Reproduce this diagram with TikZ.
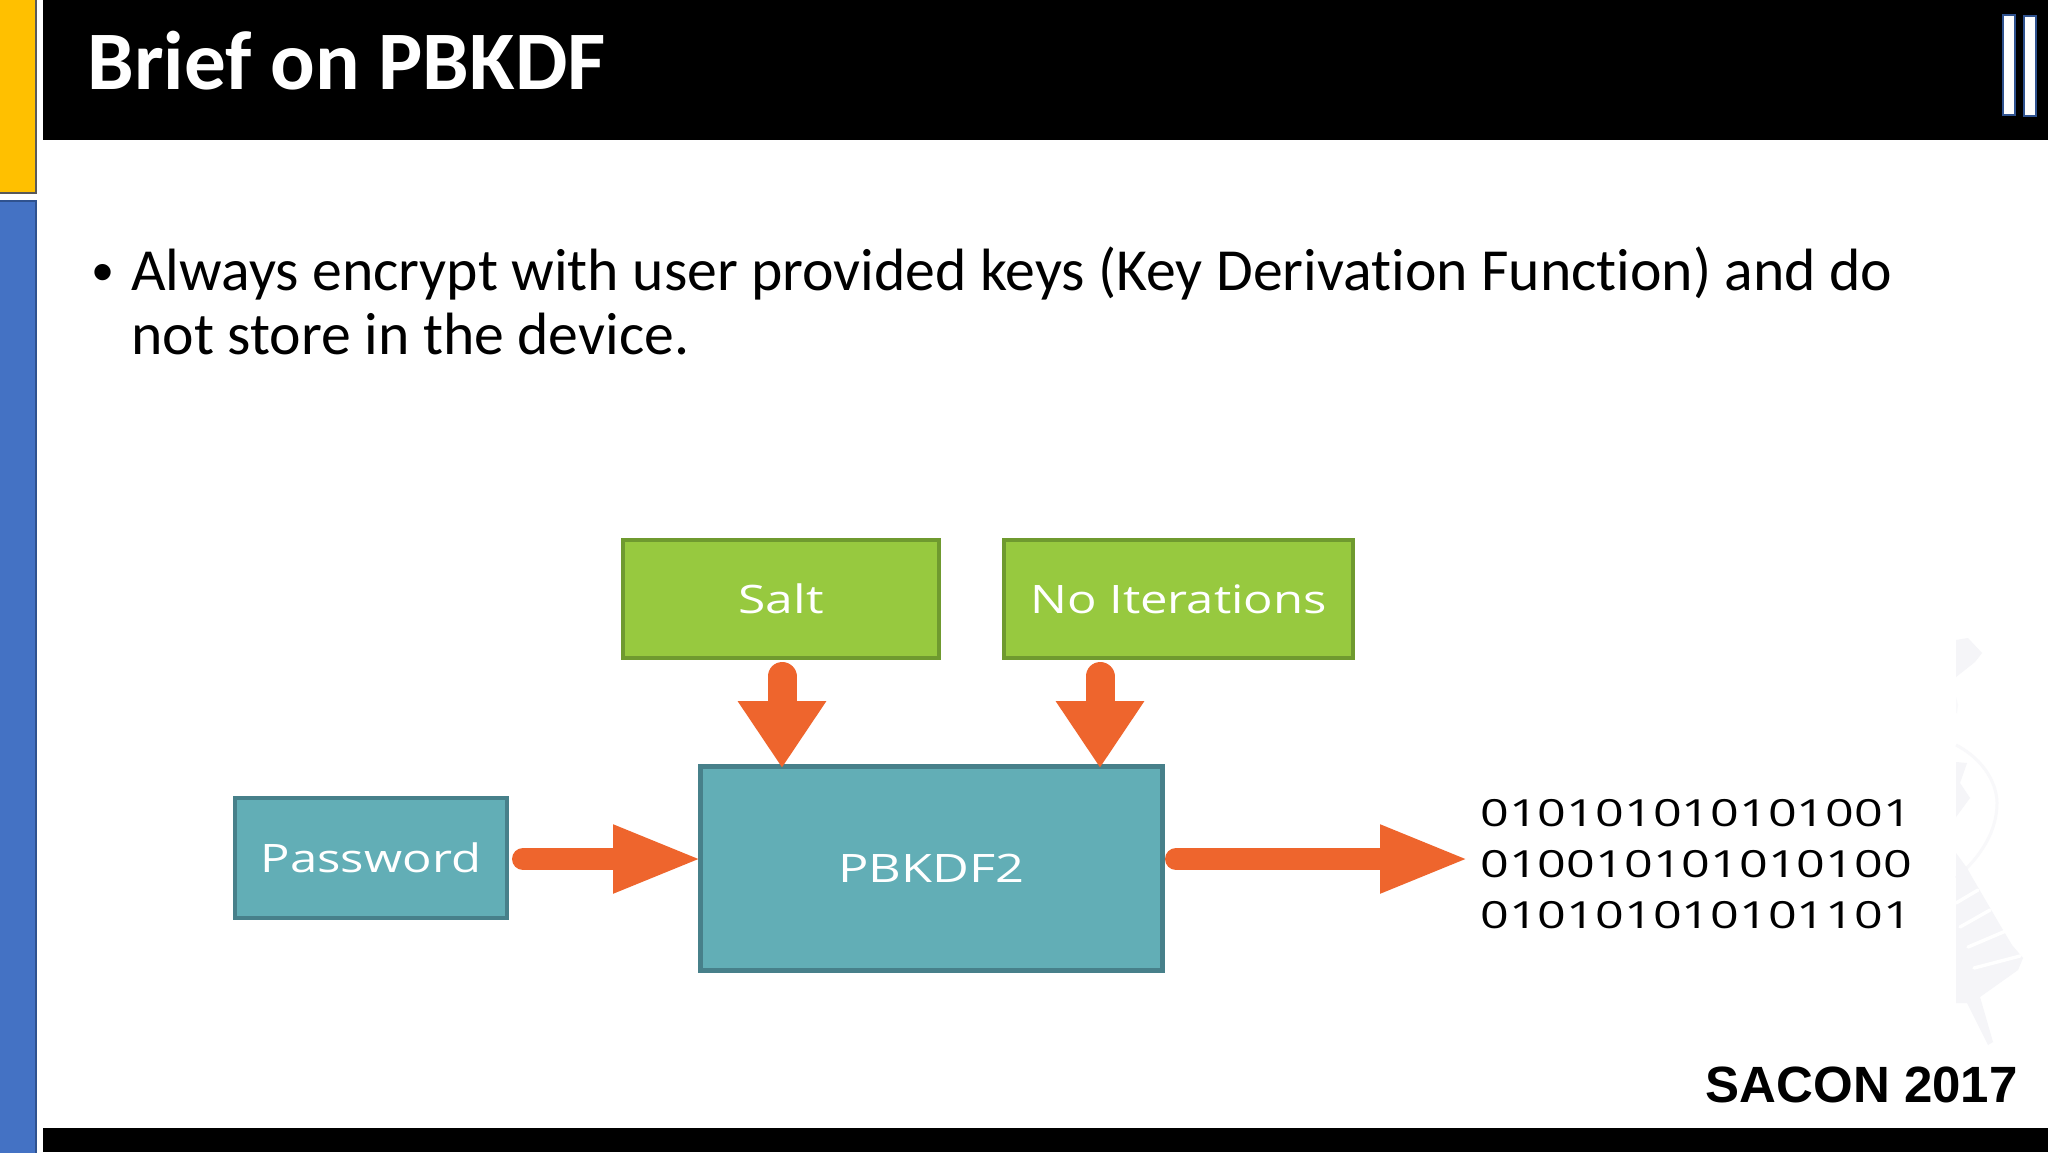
\documentclass[tikz,border=0pt]{standalone}
\usepackage{fontspec}
\usetikzlibrary{arrows.meta}
\setmainfont{Carlito}[Ligatures=NoCommon]
\newfontfamily\dgm{Open Sans}
\newfontfamily\foot{Liberation Sans}
\definecolor{gfill}{HTML}{97C93F}
\definecolor{gline}{HTML}{6F9A2F}
\definecolor{tfill}{HTML}{62AEB6}
\definecolor{tline}{HTML}{47808A}
\definecolor{orng}{HTML}{EE652D}
\definecolor{yel}{HTML}{FFC000}
\definecolor{blu}{HTML}{4472C4}
\definecolor{bluline}{HTML}{2F528F}
\definecolor{wm}{HTML}{F5F5F8}
\tikzset{
  x=0.5pt,y=-0.5pt,
  boxg/.style={draw=gline,fill=gfill,line width=2.4pt,outer sep=0pt,inner sep=0pt,text=white,font=\dgm\fontsize{19.6}{22}\selectfont},
  boxt/.style={draw=tline,fill=tfill,line width=2.4pt,outer sep=0pt,inner sep=0pt,text=white,font=\dgm\fontsize{19.6}{22}\selectfont},
  harrow/.style={orng,line width=11pt,line cap=round,shorten <=5.5pt,-{Triangle[length=45pt,width=31pt]}},
  varrow/.style={orng,line width=14.5pt,line cap=round,shorten <=7.25pt,-{Triangle[length=33.5pt,width=42pt]}},
  panel/.style={line width=1pt,draw=#1},
  whitebar/.style={fill=white,draw=bluline,line width=1pt},
  wmgap/.style={white,line width=1.7pt,line cap=round},
}
\begin{document}
\begin{tikzpicture}
\useasboundingbox (0,0) rectangle (2048,1152);
\fill[white] (0,0) rectangle (2048,1152);
% watermark
\fill[wm] (1956,640) -- (1968,638) -- (1982,653) -- (1975,662) -- (1956,677) -- cycle;
\fill[wm!60!white] (1956,697) -- (1958,705) -- (1957,713) -- (1956,713) -- cycle;
\draw[wm!70!white,line width=1.5pt] (1956,745) .. controls (1985,760) and (1997,785) .. (1997,803) .. controls (1997,830) and (1982,856) .. (1956,878);
\fill[wm] (1956,762) -- (1967,763) -- (1960,783) -- (1970,798) -- (1956,817) -- cycle;
\fill[wm] (1956,853) -- (1967,868) -- (1972,877) -- (2000,925) -- (2012,945) -- (2023,958) -- (2018,970) -- (1980,997) -- (1993,1042) -- (1988,1045) -- (1967,1003) -- (1956,1003) -- cycle;
\draw[wmgap] (1956,903) -- (1978,890);
\draw[wmgap] (1960,927) -- (1990,910);
\draw[wmgap] (1968,947) -- (2008,930);
\draw[wmgap] (1974,968) -- (2020,956);
% frame
\fill[black] (43,0) rectangle (2048,140);
\fill[black] (43,1128) rectangle (2048,1152);
\draw[panel=gray!70!black,fill=yel] (-2,-2) rectangle (35.5,193);
\draw[panel=bluline,fill=blu] (-2,200.5) rectangle (35.5,1154);
\draw[whitebar] (2002.5,14.5) rectangle (2015,115);
\draw[whitebar] (2023.5,15.5) rectangle (2036,116);
% text
\node[anchor=base west,inner sep=0pt,text=white,font=\bfseries\fontsize{41.6}{48}\selectfont] (title) at (87,89) {Brief on PBKDF};
\node[anchor=base,inner sep=0pt,font=\foot\fontsize{30}{32}\selectfont] (bullet) at (103,292) {•};
\node[anchor=base west,inner sep=0pt,font=\fontsize{29.85}{31.75}\selectfont,align=left] (body) at (131,354) {Always encrypt with user provided keys (Key Derivation Function) and do\\not store in the device.};
% boxes
\node[boxg,minimum width=158pt,minimum height=59pt] (salt) at (781,599) {\scalebox{1.27}[1]{Salt}};
\node[boxg,minimum width=174.5pt,minimum height=59pt] (iter) at (1178.5,599) {\scalebox{1.25}[1]{No Iterations}};
\node[boxt,minimum width=136pt,minimum height=60pt] (pw) at (371,858) {\scalebox{1.25}[1]{Password}};
\node[boxt,minimum width=231pt,minimum height=102pt] (kdf) at (931.5,868.5) {\scalebox{1.29}[1]{PBKDF2}};
\node[anchor=base west,inner sep=0pt,font=\dgm\fontsize{18.7}{25.5}\selectfont,align=left] (bits) at (1480,928) {\scalebox{1.345}[1]{010101010101001}\\\scalebox{1.345}[1]{010010101010100}\\\scalebox{1.345}[1]{010101010101101}};
\node[anchor=base east,inner sep=0pt,font=\foot\bfseries\fontsize{25.5}{30}\selectfont] (sacon) at (2018,1102) {SACON 2017};
% connectors
\coordinate (sh) at (782,768);
\coordinate (ih) at (1100,768);
\coordinate (bitsin) at (1470,859);
\coordinate (kl) at (703,859);
\coordinate (kr) at (1165,859);
\coordinate (sst) at (782,662);
\coordinate (ist) at (1100,662);
\coordinate (pst) at (512,859);
\draw[varrow] (sst) -- (sh);
\draw[varrow] (ist) -- (ih);
\draw[harrow] (pst) -- (kl);
\draw[harrow] (kr) -- (bitsin);
\end{tikzpicture}
\end{document}
